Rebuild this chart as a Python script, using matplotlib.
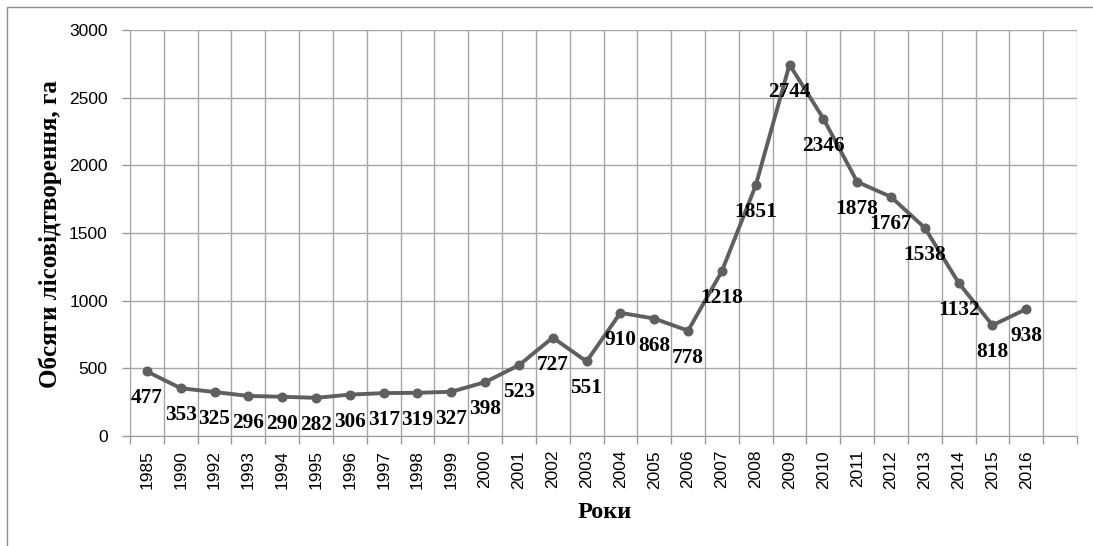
import matplotlib
matplotlib.use("Agg")
import matplotlib.pyplot as plt
from matplotlib.patches import Rectangle
import numpy as np

years = ["1985", "1990", "1992", "1993", "1994", "1995", "1996", "1997", "1998",
         "1999", "2000", "2001", "2002", "2003", "2004", "2005", "2006", "2007",
         "2008", "2009", "2010", "2011", "2012", "2013", "2014", "2015", "2016"]
values = [477, 353, 325, 296, 290, 282, 306, 317, 319, 327, 398, 523, 727, 551,
          910, 868, 778, 1218, 1851, 2744, 2346, 1878, 1767, 1538, 1132, 818, 938]
yticks = [0, 500, 1000, 1500, 2000, 2500, 3000]

W, H = 1093, 546
fig = plt.figure(figsize=(W / 100, H / 100), dpi=100)
ax = fig.add_axes([130 / W, (H - 436) / H, (1077 - 130) / W, (436 - 30) / H])

x = np.arange(len(years))
ax.plot(x, values, color="#5f5f5f", lw=2.8, marker="o", ms=6.2, zorder=3)

for xi, v in zip(x, values):
    ax.annotate(str(v), (xi, v), xytext=(0, -27), textcoords="offset pixels",
                ha="center", va="center", fontsize=15.3, fontweight="bold",
                family="Liberation Serif", color="black", zorder=4)

ax.set_xlim(-0.5, len(years) + 0.5)
ax.set_ylim(0, 3000)
ax.set_yticks(yticks)
ax.set_yticklabels([str(t) for t in yticks], family="Liberation Sans", fontsize=12.5)
ax.set_xticks(x)
ax.set_xticklabels(years, rotation=90, family="Liberation Sans", fontsize=12.5)
ax.set_xticks(np.arange(-0.5, len(years) + 1, 1.0), minor=True)

ax.tick_params(axis="x", which="major", length=0, pad=10)
ax.tick_params(axis="x", which="minor", length=6, color="#999999", width=1)
ax.tick_params(axis="y", which="major", length=6, color="#999999", width=1, pad=10)

ax.grid(True, which="minor", axis="x", color="#a6a6a6", lw=1)
ax.grid(True, which="major", axis="y", color="#a6a6a6", lw=1)
ax.grid(False, which="major", axis="x")
ax.set_axisbelow(True)
for s in ax.spines.values():
    s.set_visible(False)
ax.spines["bottom"].set_visible(True)
ax.spines["bottom"].set_color("#999999")
ax.spines["left"].set_visible(True)
ax.spines["left"].set_color("#a6a6a6")

fig.text(605 / W, 1 - 513 / H, "Роки", ha="center", va="center",
         fontsize=17.5, fontweight="bold", family="Liberation Serif")
fig.text(50 / W, 1 - 234 / H, "Обсяги лісовідтворення, га", ha="center", va="center",
         rotation=90, fontsize=18, fontweight="bold", family="Liberation Serif")

fig.patches.append(Rectangle((7 / W, -0.1), 2, 1 - 7 / H + 0.1, transform=fig.transFigure,
                             fill=False, edgecolor="#8c8c8c", lw=1))

fig.savefig("out.png", dpi=100)
